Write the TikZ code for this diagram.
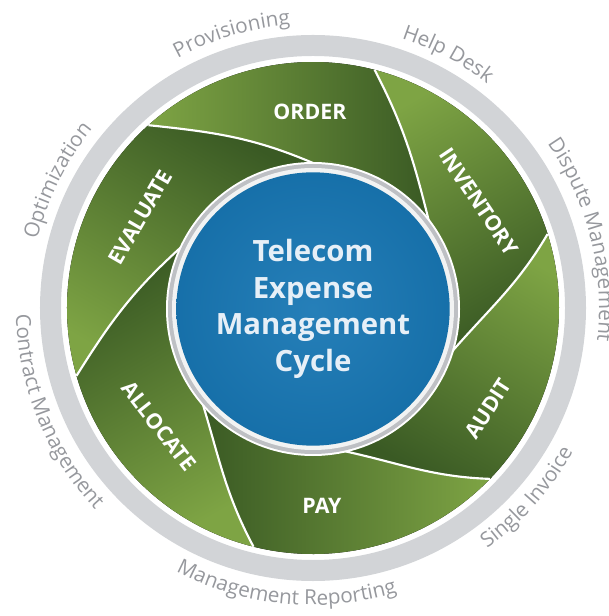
\documentclass[tikz,border=0pt]{standalone}
\usepackage{fontspec}
\setmainfont{Open Sans}
\usetikzlibrary{decorations.text}

\definecolor{bladelight}{RGB}{126,164,68}
\definecolor{bladedark}{RGB}{58,90,36}
\definecolor{ringgray}{RGB}{210,212,215}
\definecolor{ringtext}{RGB}{150,152,157}
\definecolor{hubblue}{RGB}{24,119,180}
\definecolor{hubrim}{RGB}{190,192,196}
\definecolor{hubtext}{RGB}{230,239,247}

\newcommand{\ringfont}{\fontsize{15.5}{18}\selectfont}

\tikzset{
  blade/.style={top color=bladelight, bottom color=bladedark},
  bladeedge/.style={draw=white, line width=1.6pt},
  bladelabel/.style={text=white, font=\fontsize{16}{18}\selectfont\bfseries, inner sep=0.75pt},
  ringlabel/.style={decorate, decoration={text along path, text align=center, text color=ringtext}},
  hub/.style={circle, minimum size=205pt, inner sep=0pt, inner color=hubblue!94!white, outer color=hubblue!94!black,
    text=hubtext, align=center, font=\fontsize{22}{27.5}\selectfont\bfseries},
}

\begin{document}
\begin{tikzpicture}[x=0.75pt,y=0.75pt]
\useasboundingbox (-313,-308) rectangle (295,308);
\clip (-313,-308) rectangle (295,308);

%Shape: Outer ring
\fill[ringgray, even odd rule] (0,0) circle[radius=273] circle[radius=252];

%Shape: Blades (outer/inner angle of the leading edge, then of the trailing edge)
\foreach \ao/\ai/\bo/\bi/\sa in {132/90/75.5/37/90, 75.5/37/17.5/-18/30, 17.5/-18/-44/-79/-30,
                                 -44/-79/-104/-140/-90, -104/-140/-164/-205/-150, 196/155/132/90/150}
{
  \pgfmathsetmacro{\bout}{\bo-138}
  \pgfmathsetmacro{\bin}{\bi+67}
  \pgfmathsetmacro{\aout}{\ai+67}
  \pgfmathsetmacro{\ain}{\ao-138}
  \fill[blade, shading angle=\sa] (\ao:246) arc[start angle=\ao, end angle=\bo, radius=246]
    to[out=\bout, in=\bin] (\bi:145) arc[start angle=\bi, end angle=\ai, radius=145]
    to[out=\aout, in=\ain] (\ao:246) -- cycle;
}

%Straight Lines: blade edges
\foreach \o/\i in {132/90, 75.5/37, 17.5/-18, -44/-79, -104/-140, -164/-205}
{
  \pgfmathsetmacro{\eout}{\o-138}
  \pgfmathsetmacro{\ein}{\i+67}
  \draw[bladeedge] (\o:246) to[out=\eout, in=\ein] (\i:145);
}

% Text Node
\foreach \name/\txt/\ang/\rad/\rot in {order/ORDER/90.9/196/0, inventory/INVENTORY/32.6/197/-56,
                                       audit/AUDIT/-30/202/57, pay/PAY/-87.4/198/0,
                                       allocate/ALLOCATE/-142.5/194/-52, evaluate/EVALUATE/152.3/195/60}
  \node[bladelabel, rotate=\rot] (\name) at (\ang:\rad) {\txt};

%Shape: Circle
\fill[white] (0,-1) circle[radius=147];
\fill[hubrim] (0,-1) circle[radius=145];
\fill[white!80!hubrim] (0,-1) circle[radius=141];
\node[hub] (hub) at (0,-1) {Telecom\\Expense\\Management\\Cycle};

% Text Node: around the ring
\path[ringlabel, decoration={text={|\ringfont|Provisioning}}] (130:284) arc[start angle=130, end angle=83, radius=284];
\path[ringlabel, decoration={text={|\ringfont|Help Desk}}] (85:284) arc[start angle=85, end angle=39, radius=284];
\path[ringlabel, decoration={text={|\ringfont|Optimization}}] (176:284) arc[start angle=176, end angle=131, radius=284];
\path[ringlabel, decoration={text={|\ringfont|Dispute Management}, text align=left}] (35:286) arc[start angle=35, end angle=-40, radius=286];
\path[ringlabel, decoration={text={|\ringfont|Single Invoice}}] (-65:297) arc[start angle=-65, end angle=-18, radius=297];
\path[ringlabel, decoration={text={|\ringfont|Management Reporting}}] (-127:297) arc[start angle=-127, end angle=-64, radius=297];
\path[ringlabel, decoration={text={|\ringfont|Contract Management}}] (173:297) arc[start angle=173, end angle=231, radius=297];

\end{tikzpicture}
\end{document}
